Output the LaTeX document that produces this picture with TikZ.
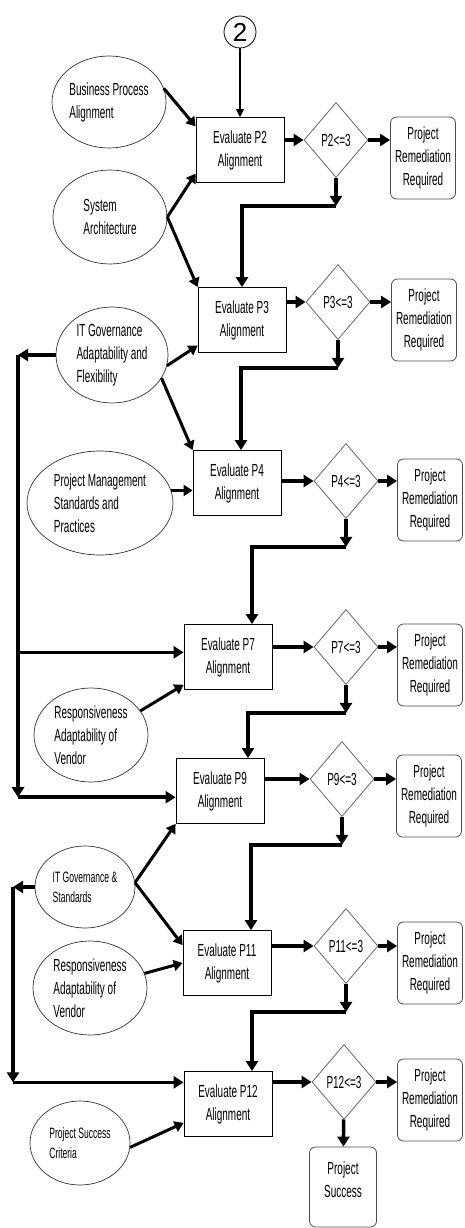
\documentclass[tikz,border=0pt]{standalone}
\usepackage{fontspec}
\setmainfont[FakeStretch=0.57]{Liberation Sans}
\newfontfamily\numfont{Liberation Sans}
\usetikzlibrary{shapes.geometric,arrows.meta}

\begin{document}
\begin{tikzpicture}[x=1pt, y=-1pt,
  every node/.style={font=\fontsize{17.5}{23}\selectfont},
  evalbox/.style={draw, line width=0.8pt, minimum width=88pt, minimum height=65pt, align=center},
  check/.style={diamond, draw=black!60, line width=0.8pt, minimum width=64pt, minimum height=75pt, inner sep=0pt},
  remed/.style={draw=black!70, line width=0.8pt, rounded corners=6pt, minimum width=65pt, minimum height=82pt, align=center},
  oval/.style={ellipse, draw=black!80, line width=0.7pt, inner sep=0pt, align=left},
  flow/.style={line width=3.5pt, -{Triangle[length=10pt,width=12pt]}},
  feed/.style={line width=3pt, -{Triangle[length=9pt,width=11pt]}}]
\useasboundingbox (0,0) rectangle (464,1228);

% Connector from page 2
\node[circle, draw, line width=0.8pt, minimum size=32pt, inner sep=0pt, font=\numfont\fontsize{26}{26}\selectfont] (c2) at (240,32) {2};

% Step P2
\node[evalbox] (e2) at (240,150) {Evaluate P2\\Alignment};
\node[check] (d2) at (336,140) {P2<=3};
\node[remed] (r2) at (423,158) {Project\\Remediation\\Required};
\node[oval, minimum width=114pt, minimum height=92pt] (bp) at (109,102) {Business Process\\ Alignment};
\node[oval, minimum width=114pt, minimum height=94pt] (sa) at (110,217) {System\\Architecture};

% Step P3
\node[evalbox] (e3) at (242,320) {Evaluate P3\\Alignment};
\node[check] (d3) at (338,302) {P3<=3};
\node[remed] (r3) at (424,320) {Project\\Remediation\\Required};
\node[oval, minimum width=112pt, minimum height=96pt] (itg) at (112,355) {IT Governance\\Adaptability and\\Flexibility};

% Step P4
\node[evalbox] (e4) at (237,483) {Evaluate P4\\Alignment};
\node[check] (d4) at (346,481) {P4<=3};
\node[remed] (r4) at (430,500) {Project\\Remediation\\Required};
\node[oval, minimum width=146pt, minimum height=104pt] (pm) at (100,503) {Project Management\\Standards and\\Practices};

% Step P7
\node[evalbox] (e7) at (228,657) {Evaluate P7\\Alignment};
\node[check] (d7) at (346,647) {P7<=3};
\node[remed] (r7) at (430,665) {Project\\Remediation\\Required};
\node[oval, minimum width=114pt, minimum height=94pt] (rav1) at (91,735) {Responsiveness\\Adaptability of\\Vendor};

% Step P9
\node[evalbox] (e9) at (220,791) {Evaluate P9\\Alignment};
\node[check] (d9) at (342,779) {P9<=3};
\node[remed] (r9) at (429,796) {Project\\Remediation\\Required};
\node[oval, minimum width=100pt, minimum height=82pt, font=\fontsize{15}{20}\selectfont] (itgs) at (85,887) {IT Governance \&\\Standards};

% Step P11
\node[evalbox] (e11) at (227,963) {Evaluate P11\\Alignment};
\node[check] (d11) at (346,946) {P11<=3};
\node[remed] (r11) at (430,963) {Project\\Remediation\\Required};
\node[oval, minimum width=114pt, minimum height=94pt] (rav2) at (90,988) {Responsiveness\\Adaptability of\\Vendor};

% Step P12
\node[evalbox] (e12) at (228,1104) {Evaluate P12\\Alignment};
\node[check] (d12) at (344,1082) {P12<=3};
\node[remed] (r12) at (430,1100) {Project\\Remediation\\Required};
\node[remed, minimum width=67pt, minimum height=80pt, text depth=14pt] (ps) at (343,1187) {Project\\Success};
\node[oval, minimum width=100pt, minimum height=84pt, font=\fontsize{15}{20}\selectfont] (psc) at (80,1143) {Project Success\\Criteria};

% Main flow
\draw[line width=1.5pt, -{Triangle[length=8pt,width=8pt]}] (c2) -- (e2);
\foreach \s in {2,3,4,7,9,11,12} {
  \draw[flow] (e\s.east |- d\s.west) -- (d\s.west);
  \draw[flow] (d\s.east) -- (d\s.east -| r\s.west);
}
\draw[flow] (d12) -- (ps);

% Links to the next step
\coordinate (k2) at ([yshift=-28pt]d2.south);
\coordinate (k3) at ([yshift=-28pt]d3.south);
\coordinate (k4) at ([yshift=-28pt]d4.south);
\coordinate (k7) at ([yshift=-28pt]d7.south);
\coordinate (k9) at ([yshift=-28pt]d9.south);
\coordinate (k11) at ([yshift=-28pt]d11.south);
\draw[flow] (d2) -- (k2);
\draw[flow] (k2) -| (e3.north);
\draw[flow] (d3) -- (k3);
\draw[flow] (k3) -| ([xshift=4pt]e4.north);
\draw[flow] (d4) -- (k4);
\draw[flow] (k4) -| ([xshift=24pt]e7.north);
\draw[flow] (d7) -- (k7);
\draw[flow] (k7) -| ([xshift=28pt]e9.north);
\draw[flow] (d9) -- (k9);
\draw[flow] (k9) -| ([xshift=24pt]e11.north);
\draw[flow] (d11) -- (k11);
\draw[flow] (k11) -| ([xshift=24pt]e12.north);

% Inputs
\draw[feed] (bp.14) -- (e2.152);
\draw[feed] (sa.east) -- (e2.208);
\draw[feed] (sa.east) -- (e3.north west);
\draw[feed] (itg.-11) -- (e3.210);
\draw[feed] (itg.-25) -- (e4.north west);
\draw[feed] (pm.10) -- (pm.10 -| e4.west);
\draw[feed] (rav1.26) -- (e7.212);
\draw[feed] (itgs.5) -- (e9.south west);
\draw[feed] (itgs.5) -- (e11.158);
\draw[feed] (rav2.15) -- (e11.west);
\draw[feed] (psc.-5) -- (e12.203);

% Side feeds
\coordinate (l1) at (18,355);
\coordinate (l3) at (13,887);
\draw[flow] (itg.west) -- (l1);
\draw[flow] (l1) -- (l1 |- e9.188);
\draw[flow] (l1 |- e7.174) -- (e7.174);
\draw[flow] (l1 |- e9.188) -- (e9.188);
\draw[flow] (itgs.west) -- (l3);
\draw[flow] (l3) -- (l3 |- e12.154);
\draw[flow] (l3 |- e12.154) -- (e12.154);

\end{tikzpicture}
\end{document}
